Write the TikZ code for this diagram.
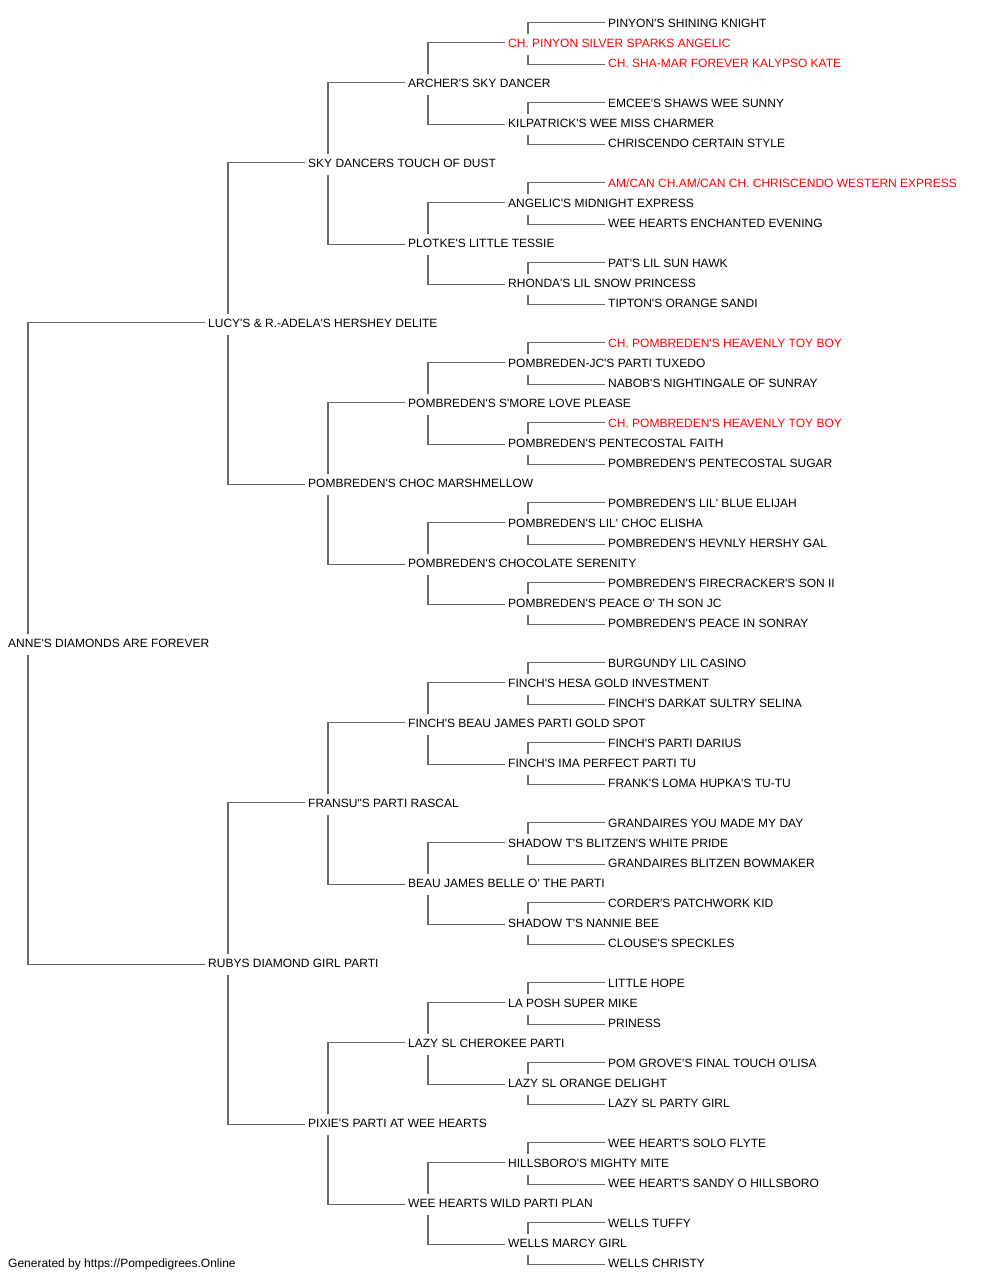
\documentclass[tikz,border=0pt]{standalone}
\usepackage{fontspec}
\setmainfont{Liberation Sans}[Ligatures=TeXOff]
\usepackage{tikz}
\definecolor{linkgray}{RGB}{104,104,104}
\definecolor{champred}{RGB}{255,0,0}
\tikzset{
  dog/.style={
    anchor=west,
    inner sep=0pt,
    text height=8.6pt,
    text depth=0pt,
    font=\fontsize{12}{14}\selectfont
  },
  link/.style={
    draw=linkgray,
    line width=1.6pt
  }
}

\begin{document}
\begin{tikzpicture}[x=1pt,y=-1pt]
  \useasboundingbox (0,0) rectangle (1000,1280);

  % Subject and parents
  \node[dog] (n1) at (8, 643.5) {ANNE'S DIAMONDS ARE FOREVER};
  \foreach \k/\name in {2/{LUCY'S \& R.-ADELA'S HERSHEY DELITE}, 3/{RUBYS DIAMOND GIRL PARTI}}
    \node[dog] (n\k) at (208, {3.5+(\k-2+0.5)*640}) {\name};

  % Grandparents
  \foreach \k/\name in {4/{SKY DANCERS TOUCH OF DUST}, 5/{POMBREDEN'S CHOC MARSHMELLOW},
      6/{FRANSU"S PARTI RASCAL}, 7/{PIXIE'S PARTI AT WEE HEARTS}}
    \node[dog] (n\k) at (308, {3.5+(\k-4+0.5)*320}) {\name};

  % Great-grandparents
  \foreach \k/\name in {8/{ARCHER'S SKY DANCER}, 9/{PLOTKE'S LITTLE TESSIE},
      10/{POMBREDEN'S S'MORE LOVE PLEASE}, 11/{POMBREDEN'S CHOCOLATE SERENITY},
      12/{FINCH'S BEAU JAMES PARTI GOLD SPOT}, 13/{BEAU JAMES BELLE O' THE PARTI},
      14/{LAZY SL CHEROKEE PARTI}, 15/{WEE HEARTS WILD PARTI PLAN}}
    \node[dog] (n\k) at (408, {3.5+(\k-8+0.5)*160}) {\name};

  % Generation 4
  \foreach \k/\c/\name in {16/champred/{CH. PINYON SILVER SPARKS ANGELIC},
      17/black/{KILPATRICK'S WEE MISS CHARMER}, 18/black/{ANGELIC'S MIDNIGHT EXPRESS},
      19/black/{RHONDA'S LIL SNOW PRINCESS}, 20/black/{POMBREDEN-JC'S PARTI TUXEDO},
      21/black/{POMBREDEN'S PENTECOSTAL FAITH}, 22/black/{POMBREDEN'S LIL' CHOC ELISHA},
      23/black/{POMBREDEN'S PEACE O' TH SON JC}, 24/black/{FINCH'S HESA GOLD INVESTMENT},
      25/black/{FINCH'S IMA PERFECT PARTI TU}, 26/black/{SHADOW T'S BLITZEN'S WHITE PRIDE},
      27/black/{SHADOW T'S NANNIE BEE}, 28/black/{LA POSH SUPER MIKE},
      29/black/{LAZY SL ORANGE DELIGHT}, 30/black/{HILLSBORO'S MIGHTY MITE},
      31/black/{WELLS MARCY GIRL}}
    \node[dog, text=\c] (n\k) at (508, {3.5+(\k-16+0.5)*80}) {\name};

  % Generation 5
  \foreach \k/\c/\name in {32/black/{PINYON'S SHINING KNIGHT},
      33/champred/{CH. SHA-MAR FOREVER KALYPSO KATE}, 34/black/{EMCEE'S SHAWS WEE SUNNY},
      35/black/{CHRISCENDO CERTAIN STYLE},
      36/champred/{AM/CAN CH.AM/CAN CH. CHRISCENDO WESTERN EXPRESS},
      37/black/{WEE HEARTS ENCHANTED EVENING}, 38/black/{PAT'S LIL SUN HAWK},
      39/black/{TIPTON'S ORANGE SANDI}, 40/champred/{CH. POMBREDEN'S HEAVENLY TOY BOY},
      41/black/{NABOB'S NIGHTINGALE OF SUNRAY}, 42/champred/{CH. POMBREDEN'S HEAVENLY TOY BOY},
      43/black/{POMBREDEN'S PENTECOSTAL SUGAR}, 44/black/{POMBREDEN'S LIL' BLUE ELIJAH},
      45/black/{POMBREDEN'S HEVNLY HERSHY GAL}, 46/black/{POMBREDEN'S FIRECRACKER'S SON II},
      47/black/{POMBREDEN'S PEACE IN SONRAY}, 48/black/{BURGUNDY LIL CASINO},
      49/black/{FINCH'S DARKAT SULTRY SELINA}, 50/black/{FINCH'S PARTI DARIUS},
      51/black/{FRANK'S LOMA HUPKA'S TU-TU}, 52/black/{GRANDAIRES YOU MADE MY DAY},
      53/black/{GRANDAIRES BLITZEN BOWMAKER}, 54/black/{CORDER'S PATCHWORK KID},
      55/black/{CLOUSE'S SPECKLES}, 56/black/{LITTLE HOPE}, 57/black/{PRINESS},
      58/black/{POM GROVE'S FINAL TOUCH O'LISA}, 59/black/{LAZY SL PARTY GIRL},
      60/black/{WEE HEART'S SOLO FLYTE}, 61/black/{WEE HEART'S SANDY O HILLSBORO},
      62/black/{WELLS TUFFY}, 63/black/{WELLS CHRISTY}}
    \node[dog, text=\c] (n\k) at (608, {3.5+(\k-32+0.5)*40}) {\name};

  % Connectors: sire above, dam below
  \foreach \k in {1,...,31} {
    \pgfmathtruncatemacro\sire{2*\k}
    \pgfmathtruncatemacro\dam{2*\k+1}
    \draw[link] ([xshift=-3pt,yshift=1pt]n\sire.west) -| ([xshift=20pt,yshift=9.5pt]n\k.west);
    \draw[link] ([xshift=-3pt,yshift=-1pt]n\dam.west) -| ([xshift=20pt,yshift=-11.5pt]n\k.west);
  }

  % Footer
  \node[dog] (credit) at (8, 1263.5) {Generated by https://Pompedigrees.Online};

\end{tikzpicture}
\end{document}
